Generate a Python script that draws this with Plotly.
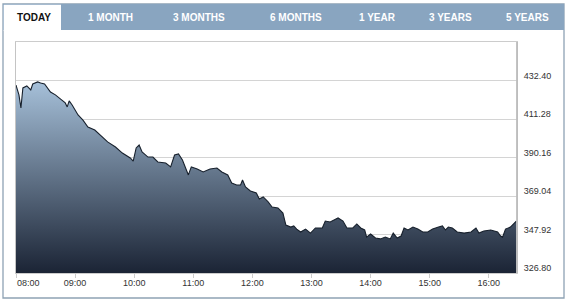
import plotly.graph_objects as go

# ---------------- data ----------------
times = ["08:00","08:03","08:05","08:07","08:11","08:15","08:17","08:22","08:25","08:29",
         "08:35","08:40","08:45","08:50","08:52","08:54","08:57","09:03","09:08","09:13",
         "09:20","09:25","09:33","09:41","09:48","09:56","09:59","10:02","10:05","10:08",
         "10:14","10:19","10:24","10:32","10:37","10:41","10:45","10:49","10:52","10:55",
         "10:58","11:04","11:10","11:17","11:24","11:29","11:35","11:39","11:44","11:48",
         "11:50","11:53","11:58","12:04","12:07","12:11","12:16","12:20","12:26","12:31",
         "12:34","12:39","12:42","12:45","12:49","12:54","12:59","13:04","13:11","13:14",
         "13:19","13:24","13:27","13:32","13:36","13:42","13:46","13:50","13:54","13:56",
         "14:00","14:05","14:10","14:15","14:20","14:23","14:27","14:31","14:34","14:38",
         "14:43","14:48","14:53","14:58","15:03","15:09","15:13","15:16","15:19","15:23",
         "15:28","15:35","15:42","15:47","15:50","15:55","16:02","16:09","16:12","16:14",
         "16:17","16:22","16:26","16:28"]
values = [429.9,424.5,417.3,428.3,429.4,427.2,430.5,431.6,431.0,430.5,
          426.1,424.5,422.3,420.1,417.9,421.2,419.0,413.5,410.7,406.9,
          405.2,402.5,398.7,395.9,392.6,389.9,388.2,395.4,397.0,393.2,
          390.4,390.4,387.7,387.1,385.0,391.5,392.1,388.8,384.4,380.6,
          385.0,383.9,382.2,383.9,384.4,382.2,380.6,376.2,375.1,375.1,
          377.8,374.0,371.8,370.7,367.4,368.5,365.8,363.0,362.5,359.7,
          353.1,352.0,352.6,350.9,349.3,350.9,348.7,351.5,351.5,355.3,
          354.8,356.4,357.0,355.3,351.5,351.5,353.7,351.5,350.4,346.5,
          348.2,346.0,345.5,346.5,345.5,348.7,346.0,347.1,351.5,350.4,
          352.0,350.9,349.3,349.3,350.9,352.0,352.6,350.4,352.0,351.5,
          349.3,348.7,349.3,351.5,348.7,349.8,350.4,349.3,347.1,346.5,
          350.9,352.0,354.2,355.3]

y_ticks = [326.80, 347.92, 369.04, 390.16, 411.28, 432.40]
x_ticks = ["08:00","09:00","10:00","11:00","12:00","13:00","14:00","15:00","16:00"]
tabs = ["TODAY","1 MONTH","3 MONTHS","6 MONTHS","1 YEAR","3 YEARS","5 YEARS"]

DAY = "2024-01-02 "
FONT = "Arial, 'Liberation Sans', sans-serif"

# ---------------- geometry ----------------
W, H = 570, 303
PL, PR, PT, PB = 16, 517, 42, 273  # plot area in px


def px(x):
    return (x - PL) / (PR - PL)


def py(y):
    return (PB - y) / (PB - PT)


fig = go.Figure()
fig.add_trace(go.Scatter(
    x=[DAY + t for t in times], y=values, mode="lines",
    line=dict(color="#17202c", width=1.1),
    fill="tozeroy",
    fillgradient=dict(type="vertical", start=y_ticks[0], stop=values[7],
                      colorscale=[[0, "#1a2334"], [1, "#a5bfd8"]]),
    hoverinfo="skip", showlegend=False,
))

fig.update_layout(
    width=W, height=H,
    margin=dict(l=PL, r=W - PR, t=PT, b=H - PB),
    paper_bgcolor="white", plot_bgcolor="white",
    font=dict(family=FONT, size=9, color="#333333"),
    xaxis=dict(
        type="date",
        range=[DAY + "08:00", DAY + "16:28:40"],
        tickvals=[DAY + t for t in x_ticks],
        ticktext=[""] + x_ticks[1:],
        ticks="outside", ticklen=4, tickcolor="#cccccc",
        showgrid=False, zeroline=False,
        showline=True, linecolor="#cccccc", linewidth=1, mirror=True,
        ticklabelstandoff=-3,
        tickfont=dict(size=9, color="#333333"),
    ),
    yaxis=dict(
        side="right",
        range=[y_ticks[0], y_ticks[0] + 6 * (y_ticks[1] - y_ticks[0])],
        tickvals=y_ticks,
        ticktext=[f"{v:.2f}" for v in y_ticks],
        ticks="", showgrid=True, gridcolor="#d4d4d4", gridwidth=1,
        zeroline=False,
        showline=True, linecolor="#c4c4c4", linewidth=1, mirror=True,
        ticklabelstandoff=4, ticklabelshift=-5,
        tickfont=dict(size=9, color="#333333"),
    ),
)

shapes = []
# outer panel border
shapes.append(dict(type="rect", xref="paper", yref="paper",
                   x0=px(3), x1=px(564), y0=py(298), y1=py(4),
                   line=dict(color="#8ea2b4", width=1.3), fillcolor="rgba(0,0,0,0)", layer="below"))
# tab bar
shapes.append(dict(type="rect", xref="paper", yref="paper",
                   x0=px(3), x1=px(564), y0=py(30), y1=py(4),
                   line=dict(width=0), fillcolor="#89a5c0", layer="above"))
# active tab
shapes.append(dict(type="rect", xref="paper", yref="paper",
                   x0=px(3.7), x1=px(61), y0=py(31), y1=py(4.7),
                   line=dict(width=0), fillcolor="white", layer="above"))
# right axis line, slightly heavier
shapes.append(dict(type="line", xref="paper", yref="paper",
                   x0=1, x1=1, y0=0, y1=1,
                   line=dict(color="#bdbdbd", width=1.8), layer="above"))
fig.update_layout(shapes=shapes)

tab_cx = [34, 110, 199, 296, 377, 450, 527]
ann = []
for i, (lab, cx) in enumerate(zip(tabs, tab_cx)):
    ann.append(dict(text=f"<b>{lab}</b>", xref="paper", yref="paper",
                    x=px(cx), y=py(17.5), xanchor="center", yanchor="middle",
                    showarrow=False,
                    font=dict(family=FONT, size=10,
                              color="#111111" if i == 0 else "white")))
# first x tick label is left-aligned at the axis start
ann.append(dict(text=x_ticks[0], xref="x", yref="paper",
                x=DAY + x_ticks[0], y=py(276), xanchor="left", yanchor="top",
                showarrow=False, xshift=-1,
                font=dict(family=FONT, size=9, color="#333333")))
fig.update_layout(annotations=ann)

fig.write_html("out.html", config={"displayModeBar": False})
